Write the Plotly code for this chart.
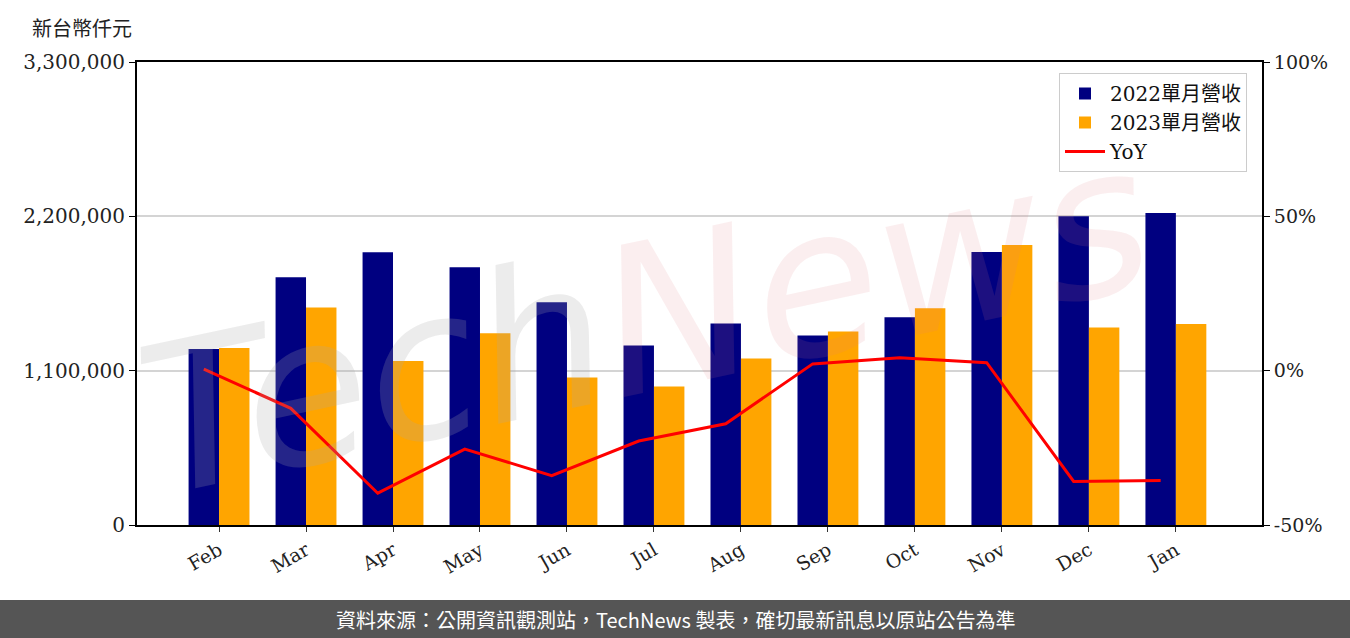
import plotly.graph_objects as go

months = ["Feb", "Mar", "Apr", "May", "Jun", "Jul", "Aug", "Sep", "Oct", "Nov", "Dec", "Jan"]
rev_2022 = [1254000, 1765000, 1944000, 1837000, 1587000, 1280000, 1437000, 1351000, 1480000, 1946000, 2200000, 2223000]
rev_2023 = [1262000, 1551000, 1169000, 1366000, 1052000, 987000, 1187000, 1380000, 1544000, 1996000, 1408000, 1433000]
yoy = [0.5, -12.2, -39.7, -25.4, -34.0, -22.8, -17.2, 2.2, 4.2, 2.6, -35.9, -35.6]

y_ticks = [0, 1100000, 2200000, 3300000]
y2_ticks = [-50, 0, 50, 100]
y2_labels = ["-50%", "0%", "50%", "100%"]

x = list(range(len(months)))
x_line = [i - 0.175 for i in x]

SERIF = "DejaVu Serif"
CJK = "Noto Sans CJK TC"

fig = go.Figure()
fig.add_trace(go.Bar(x=x, y=rev_2022, name="2022單月營收", marker_color="#000080",
                     width=0.35, offset=-0.35, marker_line_width=0))
fig.add_trace(go.Bar(x=x, y=rev_2023, name="2023單月營收", marker_color="#FFA500",
                     width=0.35, offset=0, marker_line_width=0))
fig.add_trace(go.Scatter(x=x_line, y=yoy, name="YoY", mode="lines",
                         line=dict(color="#FF0000", width=3), yaxis="y2"))

L, R, T, B = 137, 88, 62, 113
W, H = 1350, 638
pw, ph = W - L - R, H - T - B

def px(xp):
    return (xp - L) / pw

def py(yp):
    return (H - B - yp) / ph

fig.update_layout(
    width=W, height=H,
    margin=dict(l=L, r=R, t=T, b=B),
    paper_bgcolor="white", plot_bgcolor="white",
    barmode="overlay",
    font=dict(family=SERIF + ", " + CJK, size=18, color="#222"),
    showlegend=True,
    legend=dict(x=px(1247), y=py(73), xanchor="right", yanchor="top",
                bgcolor="white", bordercolor="#cccccc", borderwidth=1,
                font=dict(family=SERIF + ", " + CJK, size=20, color="#111"),
                traceorder="normal", itemwidth=40),
    xaxis=dict(range=[-0.943, 11.99], tickmode="array", tickvals=x, ticktext=months,
               tickangle=-30, ticks="outside", ticklen=5, tickcolor="#333",
               showline=True, linecolor="black", linewidth=2, mirror=True,
               showgrid=False, zeroline=False,
               tickfont=dict(family=SERIF, size=19, color="#222")),
    yaxis=dict(range=[0, 3300000], tickmode="array", tickvals=y_ticks, tickformat=",d",
               ticks="outside", ticklen=6, tickcolor="black",
               showline=True, linecolor="black", linewidth=2,
               showgrid=True, gridcolor="#d4d4d4", gridwidth=1.5, zeroline=False,
               tickfont=dict(family=SERIF, size=20, color="#222")),
    yaxis2=dict(range=[-50, 100], tickmode="array", tickvals=y2_ticks, ticktext=y2_labels,
                overlaying="y", side="right", anchor="x",
                ticks="outside", ticklen=6, tickcolor="black",
                showline=True, linecolor="black", linewidth=2,
                showgrid=False, zeroline=False,
                tickfont=dict(family=SERIF, size=19, color="#222")),
)

# Watermark
fig.add_annotation(
    xref="paper", yref="paper", x=px(645), y=py(320), showarrow=False,
    text="<span style='color:rgba(170,170,170,0.22)'>Tech</span><span style='color:rgba(225,120,135,0.13)'>News</span>",
    font=dict(family="DejaVu Sans", size=205, style="italic"),
    textangle=-12,
)

# Unit label
fig.add_annotation(xref="paper", yref="paper", x=px(30), y=py(27), xanchor="left", yanchor="middle",
                   showarrow=False, text="新台幣仟元",
                   font=dict(family=CJK, size=20, color="#222"))

# Footer band
fig.add_shape(type="rect", xref="paper", yref="paper", x0=px(0), x1=px(W), y0=py(H), y1=py(600),
              fillcolor="#555555", line_width=0, layer="above")
fig.add_annotation(xref="paper", yref="paper", x=px(675), y=py(619), xanchor="center", yanchor="middle",
                   showarrow=False, text="資料來源：公開資訊觀測站，TechNews 製表，確切最新訊息以原站公告為準",
                   font=dict(family=CJK, size=20, color="white"))

fig.write_html("out.html", config={"displayModeBar": False},
               post_script="document.body.style.margin='0';document.body.style.overflow='hidden';")
